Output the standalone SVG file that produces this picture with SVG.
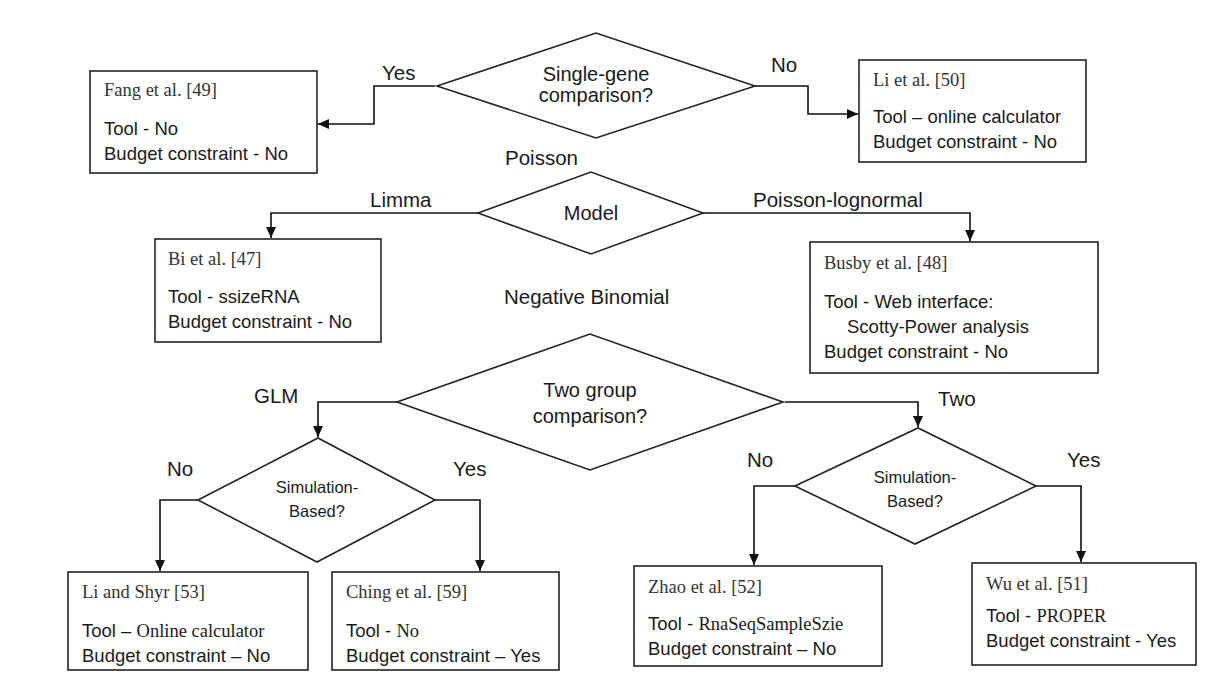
<svg xmlns="http://www.w3.org/2000/svg" width="1232" height="679" viewBox="0 0 1232 679">
<defs>
<marker id="arr" markerUnits="userSpaceOnUse" markerWidth="12" markerHeight="10" refX="11" refY="5" orient="auto">
<path d="M0,0 L11,5 L0,10 Z" fill="#111"/>
</marker>
<style>
.box{fill:#fff;stroke:#222;stroke-width:1.6}
.dia{fill:#fff;stroke:#222;stroke-width:1.6}
.con{fill:none;stroke:#111;stroke-width:1.6;marker-end:url(#arr)}
.ttl{font-family:"Liberation Serif",serif;font-size:18.5px;fill:#333}
.bt{font-family:"Liberation Sans",Arial,sans-serif;font-size:18.5px;fill:#1a1a1a}
.lbl{font-family:"Liberation Sans",Arial,sans-serif;font-size:20.5px;fill:#1a1a1a}
.dt{font-family:"Liberation Sans",Arial,sans-serif;font-size:20px;fill:#1a1a1a;text-anchor:middle}
.st{font-family:"Liberation Sans",Arial,sans-serif;font-size:16.5px;fill:#1a1a1a;text-anchor:middle}
</style>
</defs>
<rect width="1232" height="679" fill="#fff"/>

<g id="connectors">
<path class="con" d="M435,86 H374 V124 H318"/>
<path class="con" d="M755,86 H808 V114 H858"/>
<path class="con" d="M478,213 H271 V238"/>
<path class="con" d="M703,213 H970 V241"/>
<path class="con" d="M397,402 H318 V437"/>
<path class="con" d="M785,402 H918 V427"/>
<path class="con" d="M198,500 H160 V571"/>
<path class="con" d="M435,500 H480 V571"/>
<path class="con" d="M795,486 H754 V565"/>
<path class="con" d="M1036,486 H1081 V562"/>
</g>

<g id="labels">
<text class="lbl" x="382" y="80">Yes</text>
<text class="lbl" x="771" y="72">No</text>
<text class="lbl" x="505" y="165">Poisson</text>
<text class="lbl" x="370" y="207">Limma</text>
<text class="lbl" x="753" y="207">Poisson-lognormal</text>
<text class="lbl" x="504" y="304">Negative Binomial</text>
<text class="lbl" x="254" y="403">GLM</text>
<text class="lbl" x="938" y="406">Two</text>
<text class="lbl" x="167" y="476">No</text>
<text class="lbl" x="453" y="476">Yes</text>
<text class="lbl" x="747" y="467">No</text>
<text class="lbl" x="1067" y="467">Yes</text>
</g>

<g id="d-single">
<polygon class="dia" points="437,86 596,33 755,86 596,138"/>
<text class="dt" x="596" y="81">Single-gene</text>
<text class="dt" x="596" y="102">comparison?</text>
</g>

<g id="d-model">
<polygon class="dia" points="478,213 591,172 703,213 591,254"/>
<text class="dt" x="591" y="220">Model</text>
</g>

<g id="d-two">
<polygon class="dia" points="397,402 590,334 783,402 590,470"/>
<text class="dt" x="590" y="397">Two group</text>
<text class="dt" x="590" y="423">comparison?</text>
</g>

<g id="d-sim-left">
<polygon class="dia" points="198,500 318,438 435,500 317,562"/>
<text class="st" x="317" y="493">Simulation-</text>
<text class="st" x="317" y="517">Based?</text>
</g>

<g id="d-sim-right">
<polygon class="dia" points="795,486 918,428 1036,486 915,544"/>
<text class="st" x="915" y="483">Simulation-</text>
<text class="st" x="915" y="507">Based?</text>
</g>

<g id="n-fang">
<rect class="box" x="90" y="71" width="227" height="102"/>
<text class="ttl" x="104" y="96">Fang et al. [49]</text>
<text class="bt" x="104" y="135">Tool - No</text>
<text class="bt" x="104" y="160">Budget constraint - No</text>
</g>

<g id="n-li50">
<rect class="box" x="859" y="60" width="227" height="102"/>
<text class="ttl" x="873" y="86">Li et al. [50]</text>
<text class="bt" x="873" y="123">Tool – online calculator</text>
<text class="bt" x="873" y="148">Budget constraint - No</text>
</g>

<g id="n-bi">
<rect class="box" x="155" y="239" width="226" height="103"/>
<text class="ttl" x="168" y="265">Bi et al. [47]</text>
<text class="bt" x="168" y="303">Tool - ssizeRNA</text>
<text class="bt" x="168" y="328">Budget constraint - No</text>
</g>

<g id="n-busby">
<rect class="box" x="810" y="242" width="288" height="131"/>
<text class="ttl" x="824" y="269">Busby et al. [48]</text>
<text class="bt" x="824" y="308">Tool - Web interface:</text>
<text class="bt" x="847" y="333">Scotty-Power analysis</text>
<text class="bt" x="824" y="358">Budget constraint - No</text>
</g>

<g id="n-lishyr">
<rect class="box" x="68" y="572" width="240" height="98"/>
<text class="ttl" x="82" y="598">Li and Shyr [53]</text>
<text class="bt" x="82" y="637"><tspan>Tool – </tspan><tspan style="font-family:'Liberation Serif',serif">Online calculator</tspan></text>
<text class="bt" x="82" y="662">Budget constraint – No</text>
</g>

<g id="n-ching">
<rect class="box" x="332" y="572" width="227" height="98"/>
<text class="ttl" x="346" y="598">Ching et al. [59]</text>
<text class="bt" x="346" y="637">Tool - <tspan style="font-family:'Liberation Serif',serif">No</tspan></text>
<text class="bt" x="346" y="662">Budget constraint – Yes</text>
</g>

<g id="n-zhao">
<rect class="box" x="634" y="566" width="248" height="100"/>
<text class="ttl" x="648" y="593">Zhao et al. [52]</text>
<text class="bt" x="648" y="630">Tool - <tspan style="font-family:'Liberation Serif',serif">RnaSeqSampleSzie</tspan></text>
<text class="bt" x="648" y="655">Budget constraint – No</text>
</g>

<g id="n-wu">
<rect class="box" x="972" y="563" width="224" height="102"/>
<text class="ttl" x="986" y="590">Wu et al. [51]</text>
<text class="bt" x="986" y="622">Tool - <tspan style="font-family:'Liberation Serif',serif">PROPER</tspan></text>
<text class="bt" x="986" y="647">Budget constraint - Yes</text>
</g>
</svg>
